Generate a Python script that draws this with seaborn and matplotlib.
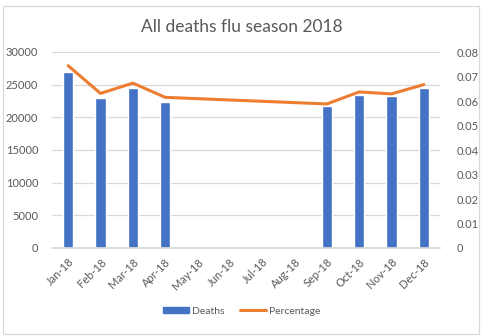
import matplotlib
matplotlib.use("Agg")
import matplotlib.pyplot as plt
import seaborn as sns
import pandas as pd
import numpy as np
from matplotlib.patches import Rectangle, Patch
from matplotlib.lines import Line2D

months = ["Jan-18", "Feb-18", "Mar-18", "Apr-18", "May-18", "Jun-18",
          "Jul-18", "Aug-18", "Sep-18", "Oct-18", "Nov-18", "Dec-18"]
deaths = [26950, 22970, 24500, 22360, None, None, None, None, 21750, 23480, 23320, 24500]
percentage = [0.0744, 0.0631, 0.0673, 0.0615, None, None, None, None, 0.0588, 0.0637, 0.0629, 0.0667]

BLUE = "#4472C4"
ORANGE = "#ED7D31"
GRAY = "#595959"
GRID = "#D9D9D9"

sns.set_theme(style="white")
plt.rcParams["font.family"] = ["Lato", "DejaVu Sans"]

df = pd.DataFrame({"month": months,
                   "deaths": pd.to_numeric(pd.Series(deaths, dtype="float")),
                   "pct": pd.to_numeric(pd.Series(percentage, dtype="float"))})
df["pos"] = np.arange(len(months))

fig = plt.figure(figsize=(4.83, 3.36), dpi=100)
fig.patch.set_facecolor("white")
ax = fig.add_axes([52/483, 1-248/336, 388/483, 196/336])

sns.barplot(data=df, x="month", y="deaths", order=months, color=BLUE,
            width=0.31, saturation=1, ax=ax)
ax.set_ylim(0, 30000)
ax.set_xlim(-0.5, 11.5)
ax.set_yticks(np.arange(0, 30001, 5000))
ax.yaxis.grid(True, color=GRID, linewidth=0.9)
ax.set_axisbelow(True)
for s in ["top", "left", "right"]:
    ax.spines[s].set_visible(False)
ax.spines["bottom"].set_color(GRID)
ax.set_xlabel("")
ax.set_ylabel("")
ax.tick_params(axis="y", length=0, labelsize=8, labelcolor=GRAY, pad=10)
ax.set_xticks(range(len(months)))
ax.set_xticklabels(months, rotation=45, ha="right", rotation_mode="anchor",
                   fontsize=8, color=GRAY)
ax.tick_params(axis="x", which="major", length=0, pad=6)
ax.set_xticks(np.arange(-0.5, 12, 1), minor=True)
ax.tick_params(axis="x", which="minor", length=4, color=GRID, width=0.9)

ax2 = ax.twinx()
line_df = df.dropna(subset=["pct"])
sns.lineplot(data=line_df, x="pos", y="pct", color=ORANGE, linewidth=2.2,
             ax=ax2, sort=True)
ax2.set_ylim(0, 0.08)
ax2.set_xlim(-0.5, 11.5)
ax2.set_yticks(np.arange(0, 0.0801, 0.01))
ax2.set_yticklabels(["0"] + [f"{v:.2f}" for v in np.arange(0.01, 0.0801, 0.01)])
ax2.tick_params(axis="y", length=0, labelsize=8, labelcolor=GRAY, pad=12)
for s in ["top", "left", "right", "bottom"]:
    ax2.spines[s].set_visible(False)
ax2.set_xlabel("")
ax2.set_ylabel("")
ax2.grid(False)

fig.text(0.5, 1-27/336, "All deaths flu season 2018", ha="center", va="center",
         fontsize=12.5, color=GRAY)

handles = [Patch(facecolor=BLUE, edgecolor=BLUE, label="Deaths"),
           Line2D([0], [0], color=ORANGE, linewidth=2.2, label="Percentage")]
fig.legend(handles=handles, loc="center", bbox_to_anchor=(0.5, 1-311/336),
           ncol=2, frameon=False, fontsize=7.5, labelcolor=GRAY,
           handlelength=2.5, handletextpad=0.3, columnspacing=1.5,
           handleheight=0.6)

fig.add_artist(Rectangle((3/483, 0.005), 476/483, 1-8/336, transform=fig.transFigure,
                         fill=False, edgecolor=GRID, linewidth=0.9))

fig.savefig("out.png", dpi=100, facecolor="white")
